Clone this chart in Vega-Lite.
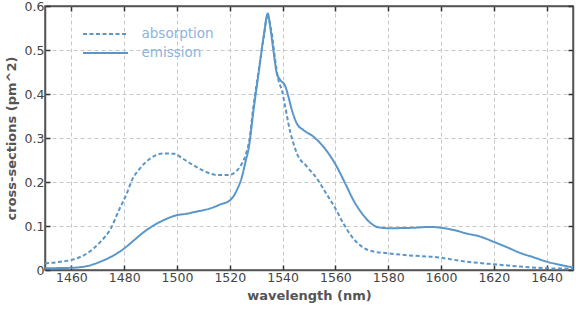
{
  "$schema": "https://vega.github.io/schema/vega-lite/v6.json",
  "width": 528,
  "height": 264,
  "autosize": {"type": "none"},
  "padding": {"left": 45, "top": 6, "right": 3, "bottom": 41},
  "config": {
    "font": "DejaVu Sans",
    "view": {"stroke": "#555555", "strokeWidth": 1.5}
  },
  "data": {
    "values": [
      {"wl": 1450, "val": 0.015, "series": "absorption"},
      {"wl": 1455, "val": 0.018, "series": "absorption"},
      {"wl": 1460, "val": 0.023, "series": "absorption"},
      {"wl": 1466, "val": 0.038, "series": "absorption"},
      {"wl": 1471, "val": 0.064, "series": "absorption"},
      {"wl": 1475, "val": 0.095, "series": "absorption"},
      {"wl": 1478, "val": 0.136, "series": "absorption"},
      {"wl": 1481, "val": 0.174, "series": "absorption"},
      {"wl": 1483, "val": 0.205, "series": "absorption"},
      {"wl": 1486, "val": 0.231, "series": "absorption"},
      {"wl": 1490, "val": 0.254, "series": "absorption"},
      {"wl": 1495, "val": 0.265, "series": "absorption"},
      {"wl": 1499, "val": 0.264, "series": "absorption"},
      {"wl": 1502, "val": 0.254, "series": "absorption"},
      {"wl": 1506, "val": 0.239, "series": "absorption"},
      {"wl": 1511, "val": 0.223, "series": "absorption"},
      {"wl": 1515, "val": 0.216, "series": "absorption"},
      {"wl": 1519.5, "val": 0.216, "series": "absorption"},
      {"wl": 1522.7, "val": 0.226, "series": "absorption"},
      {"wl": 1524.6, "val": 0.242, "series": "absorption"},
      {"wl": 1526.2, "val": 0.265, "series": "absorption"},
      {"wl": 1527.4, "val": 0.295, "series": "absorption"},
      {"wl": 1529, "val": 0.375, "series": "absorption"},
      {"wl": 1531, "val": 0.455, "series": "absorption"},
      {"wl": 1533, "val": 0.535, "series": "absorption"},
      {"wl": 1534.2, "val": 0.575, "series": "absorption"},
      {"wl": 1535.9, "val": 0.538, "series": "absorption"},
      {"wl": 1537.2, "val": 0.477, "series": "absorption"},
      {"wl": 1538.4, "val": 0.432, "series": "absorption"},
      {"wl": 1539.7, "val": 0.409, "series": "absorption"},
      {"wl": 1541, "val": 0.371, "series": "absorption"},
      {"wl": 1542.2, "val": 0.333, "series": "absorption"},
      {"wl": 1543, "val": 0.311, "series": "absorption"},
      {"wl": 1544.1, "val": 0.288, "series": "absorption"},
      {"wl": 1545.4, "val": 0.265, "series": "absorption"},
      {"wl": 1549.2, "val": 0.235, "series": "absorption"},
      {"wl": 1553, "val": 0.208, "series": "absorption"},
      {"wl": 1556.1, "val": 0.178, "series": "absorption"},
      {"wl": 1560, "val": 0.14, "series": "absorption"},
      {"wl": 1563, "val": 0.106, "series": "absorption"},
      {"wl": 1566.2, "val": 0.076, "series": "absorption"},
      {"wl": 1570, "val": 0.053, "series": "absorption"},
      {"wl": 1574.4, "val": 0.042, "series": "absorption"},
      {"wl": 1580, "val": 0.038, "series": "absorption"},
      {"wl": 1588.3, "val": 0.033, "series": "absorption"},
      {"wl": 1598.4, "val": 0.029, "series": "absorption"},
      {"wl": 1608.4, "val": 0.02, "series": "absorption"},
      {"wl": 1620, "val": 0.013, "series": "absorption"},
      {"wl": 1630, "val": 0.008, "series": "absorption"},
      {"wl": 1640, "val": 0.004, "series": "absorption"},
      {"wl": 1650, "val": 0.003, "series": "absorption"},
      {"wl": 1450, "val": 0.004, "series": "emission"},
      {"wl": 1460, "val": 0.005, "series": "emission"},
      {"wl": 1466, "val": 0.009, "series": "emission"},
      {"wl": 1471, "val": 0.019, "series": "emission"},
      {"wl": 1475, "val": 0.03, "series": "emission"},
      {"wl": 1480, "val": 0.049, "series": "emission"},
      {"wl": 1483.8, "val": 0.068, "series": "emission"},
      {"wl": 1487.6, "val": 0.087, "series": "emission"},
      {"wl": 1491.4, "val": 0.102, "series": "emission"},
      {"wl": 1495.2, "val": 0.114, "series": "emission"},
      {"wl": 1500.2, "val": 0.125, "series": "emission"},
      {"wl": 1502.8, "val": 0.127, "series": "emission"},
      {"wl": 1507.6, "val": 0.133, "series": "emission"},
      {"wl": 1512.6, "val": 0.14, "series": "emission"},
      {"wl": 1516.4, "val": 0.149, "series": "emission"},
      {"wl": 1520.2, "val": 0.159, "series": "emission"},
      {"wl": 1522.7, "val": 0.182, "series": "emission"},
      {"wl": 1524.6, "val": 0.212, "series": "emission"},
      {"wl": 1526.1, "val": 0.25, "series": "emission"},
      {"wl": 1527.1, "val": 0.275, "series": "emission"},
      {"wl": 1529, "val": 0.364, "series": "emission"},
      {"wl": 1530.9, "val": 0.447, "series": "emission"},
      {"wl": 1532.8, "val": 0.53, "series": "emission"},
      {"wl": 1534.4, "val": 0.583, "series": "emission"},
      {"wl": 1535.3, "val": 0.553, "series": "emission"},
      {"wl": 1536.5, "val": 0.5, "series": "emission"},
      {"wl": 1537.8, "val": 0.447, "series": "emission"},
      {"wl": 1539.1, "val": 0.432, "series": "emission"},
      {"wl": 1541, "val": 0.418, "series": "emission"},
      {"wl": 1542.2, "val": 0.394, "series": "emission"},
      {"wl": 1543.5, "val": 0.364, "series": "emission"},
      {"wl": 1545.4, "val": 0.333, "series": "emission"},
      {"wl": 1547.9, "val": 0.318, "series": "emission"},
      {"wl": 1551.7, "val": 0.303, "series": "emission"},
      {"wl": 1556.4, "val": 0.273, "series": "emission"},
      {"wl": 1560.5, "val": 0.235, "series": "emission"},
      {"wl": 1563.7, "val": 0.197, "series": "emission"},
      {"wl": 1566.8, "val": 0.159, "series": "emission"},
      {"wl": 1570, "val": 0.129, "series": "emission"},
      {"wl": 1573.1, "val": 0.108, "series": "emission"},
      {"wl": 1576.3, "val": 0.097, "series": "emission"},
      {"wl": 1580, "val": 0.095, "series": "emission"},
      {"wl": 1589.5, "val": 0.096, "series": "emission"},
      {"wl": 1595.8, "val": 0.098, "series": "emission"},
      {"wl": 1600, "val": 0.096, "series": "emission"},
      {"wl": 1604.7, "val": 0.091, "series": "emission"},
      {"wl": 1609.7, "val": 0.083, "series": "emission"},
      {"wl": 1614.8, "val": 0.076, "series": "emission"},
      {"wl": 1620, "val": 0.064, "series": "emission"},
      {"wl": 1624.9, "val": 0.052, "series": "emission"},
      {"wl": 1629.9, "val": 0.039, "series": "emission"},
      {"wl": 1635, "val": 0.029, "series": "emission"},
      {"wl": 1640, "val": 0.019, "series": "emission"},
      {"wl": 1645.7, "val": 0.011, "series": "emission"},
      {"wl": 1650, "val": 0.006, "series": "emission"}
    ]
  },
  "layer": [
    {
      "mark": {"type": "line", "strokeWidth": 2, "color": "#5a96c8", "interpolate": "monotone", "clip": true},
      "encoding": {
        "x": {
          "field": "wl", "type": "quantitative",
          "scale": {"domain": [1450, 1650], "nice": false, "zero": false},
          "axis": {
            "orient": "bottom",
            "values": [1460, 1480, 1500, 1520, 1540, 1560, 1580, 1600, 1620, 1640],
            "format": "d",
            "title": "wavelength (nm)",
            "titleFont": "DejaVu Sans", "titleFontWeight": "bold", "titleFontSize": 13, "titleColor": "#555555",
            "titlePadding": 6,
            "labelFont": "DejaVu Sans", "labelFontSize": 12.5, "labelColor": "#444444",
            "labelPadding": 6,
            "tickSize": -5, "tickColor": "#333333", "tickWidth": 1.5,
            "domainColor": "#555555", "domainWidth": 1.5,
            "grid": true, "gridColor": "#c8c8c8", "gridDash": [4, 3], "gridWidth": 1
          }
        },
        "y": {
          "field": "val", "type": "quantitative",
          "scale": {"domain": [0, 0.6], "nice": false},
          "axis": {
            "orient": "left",
            "values": [0, 0.1, 0.2, 0.3, 0.4, 0.5, 0.6],
            "format": "~g",
            "title": "cross-sections (pm^2)",
            "titleFont": "DejaVu Sans", "titleFontWeight": "bold", "titleFontSize": 13, "titleColor": "#555555",
            "titlePadding": 6,
            "labelFont": "DejaVu Sans", "labelFontSize": 12.5, "labelColor": "#444444",
            "labelPadding": 6,
            "tickSize": -5, "tickColor": "#333333", "tickWidth": 1.5,
            "domainColor": "#555555", "domainWidth": 1.5,
            "grid": true, "gridColor": "#c8c8c8", "gridDash": [4, 3], "gridWidth": 1
          }
        },
        "strokeDash": {
          "field": "series", "type": "nominal",
          "scale": {"domain": ["absorption", "emission"], "range": [[4, 2.5], [1, 0]]},
          "legend": {
            "orient": "none", "legendX": 50.5, "legendY": 18,
            "title": null, "padding": 0,
            "symbolType": "M-2.5,0H2.5", "symbolSize": 324, "symbolStrokeWidth": 2,
            "symbolStrokeColor": "#5a96c8", "symbolFillColor": "transparent",
            "labelFont": "DejaVu Sans", "labelFontSize": 13.5, "labelColor": "#8cb4dc",
            "labelOffset": 26
          }
        }
      }
    },
    {
      "mark": {"type": "line", "opacity": 0},
      "encoding": {
        "x": {
          "field": "wl", "type": "quantitative",
          "scale": {"domain": [1450, 1650], "nice": false, "zero": false},
          "axis": {
            "orient": "top", "title": null, "labels": false, "grid": false,
            "values": [1460, 1480, 1500, 1520, 1540, 1560, 1580, 1600, 1620, 1640],
            "tickSize": -5, "tickColor": "#333333", "tickWidth": 1.5,
            "domainColor": "#555555", "domainWidth": 1.5
          }
        },
        "y": {
          "field": "val", "type": "quantitative",
          "scale": {"domain": [0, 0.6], "nice": false},
          "axis": {
            "orient": "right", "title": null, "labels": false, "grid": false,
            "values": [0, 0.1, 0.2, 0.3, 0.4, 0.5, 0.6],
            "tickSize": -5, "tickColor": "#333333", "tickWidth": 1.5,
            "domainColor": "#555555", "domainWidth": 1.5
          }
        },
        "detail": {"field": "series", "type": "nominal"}
      }
    }
  ],
  "resolve": {"axis": {"x": "independent", "y": "independent"}}
}
